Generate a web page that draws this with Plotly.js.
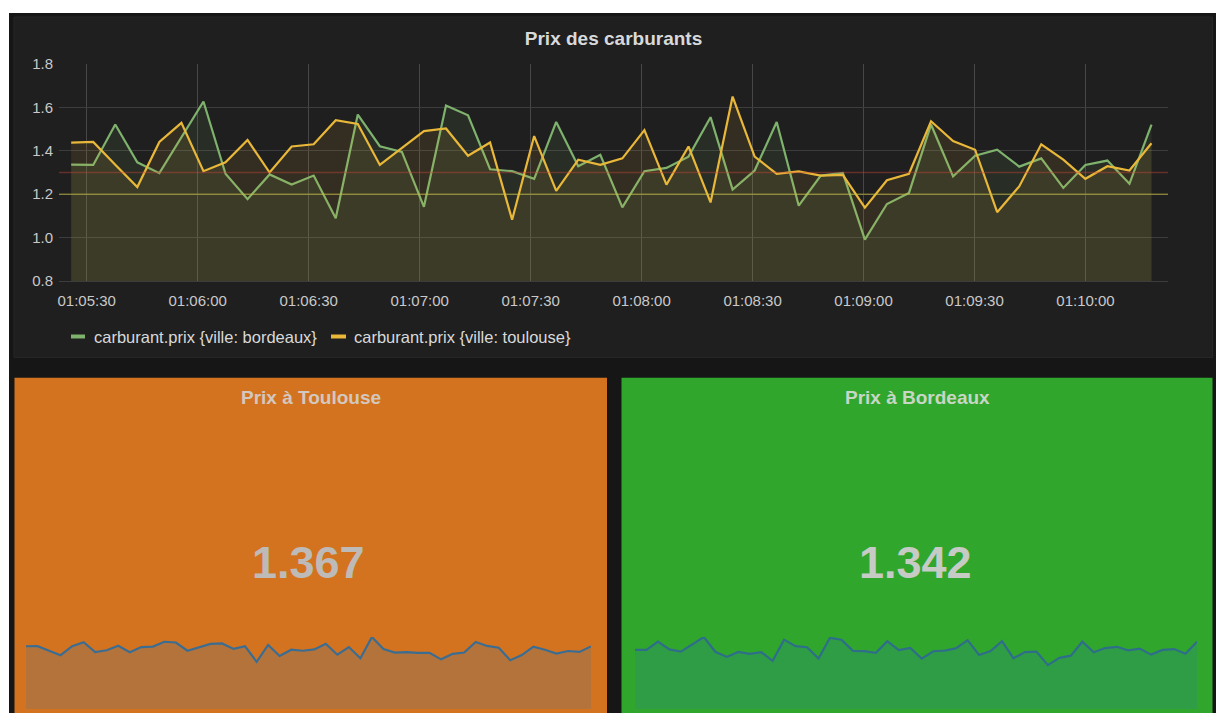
<!DOCTYPE html>
<html>
<head>
<meta charset="utf-8">
<script src="https://cdn.plot.ly/plotly-3.0.1.min.js"></script>
<style>
  html, body { margin: 0; padding: 0; background: #ffffff; }
  #chart { width: 1216px; height: 713px; }
</style>
</head>
<body>
<div id="chart"></div>
<script>
// ---- Data ----
const times = [
  "2017-06-01 01:05:25.80", "2017-06-01 01:05:31.76", "2017-06-01 01:05:37.72", "2017-06-01 01:05:43.68",
  "2017-06-01 01:05:49.64", "2017-06-01 01:05:55.60", "2017-06-01 01:06:01.56", "2017-06-01 01:06:07.52",
  "2017-06-01 01:06:13.48", "2017-06-01 01:06:19.44", "2017-06-01 01:06:25.40", "2017-06-01 01:06:31.36",
  "2017-06-01 01:06:37.32", "2017-06-01 01:06:43.28", "2017-06-01 01:06:49.24", "2017-06-01 01:06:55.20",
  "2017-06-01 01:07:01.16", "2017-06-01 01:07:07.12", "2017-06-01 01:07:13.08", "2017-06-01 01:07:19.04",
  "2017-06-01 01:07:25.00", "2017-06-01 01:07:30.96", "2017-06-01 01:07:36.92", "2017-06-01 01:07:42.88",
  "2017-06-01 01:07:48.84", "2017-06-01 01:07:54.80", "2017-06-01 01:08:00.76", "2017-06-01 01:08:06.72",
  "2017-06-01 01:08:12.68", "2017-06-01 01:08:18.64", "2017-06-01 01:08:24.60", "2017-06-01 01:08:30.56",
  "2017-06-01 01:08:36.52", "2017-06-01 01:08:42.48", "2017-06-01 01:08:48.44", "2017-06-01 01:08:54.40",
  "2017-06-01 01:09:00.36", "2017-06-01 01:09:06.32", "2017-06-01 01:09:12.28", "2017-06-01 01:09:18.24",
  "2017-06-01 01:09:24.20", "2017-06-01 01:09:30.16", "2017-06-01 01:09:36.12", "2017-06-01 01:09:42.08",
  "2017-06-01 01:09:48.04", "2017-06-01 01:09:54.00", "2017-06-01 01:09:59.96", "2017-06-01 01:10:05.92",
  "2017-06-01 01:10:11.88", "2017-06-01 01:10:17.84"
];

const bordeaux = [
  1.336, 1.335, 1.521, 1.347, 1.297, 1.462, 1.627, 1.294, 1.177, 1.291,
  1.245, 1.286, 1.089, 1.567, 1.421, 1.395, 1.142, 1.609, 1.564, 1.315,
  1.306, 1.271, 1.533, 1.329, 1.382, 1.139, 1.306, 1.321, 1.373, 1.555,
  1.221, 1.309, 1.533, 1.147, 1.286, 1.298, 0.991, 1.155, 1.206, 1.521,
  1.282, 1.377, 1.405, 1.327, 1.365, 1.229, 1.335, 1.355, 1.248, 1.521
];

const toulouse = [
  1.438, 1.441, 1.336, 1.233, 1.441, 1.529, 1.306, 1.347, 1.450, 1.300,
  1.420, 1.430, 1.541, 1.524, 1.335, 1.413, 1.491, 1.503, 1.377, 1.438,
  1.082, 1.468, 1.215, 1.359, 1.335, 1.365, 1.495, 1.244, 1.420, 1.162,
  1.650, 1.373, 1.294, 1.305, 1.286, 1.289, 1.138, 1.264, 1.294, 1.536,
  1.445, 1.405, 1.117, 1.236, 1.430, 1.359, 1.271, 1.329, 1.309, 1.435
];

const seriesNames = ["carburant.prix {ville: bordeaux}", "carburant.prix {ville: toulouse}"];
const thresholds = [1.3, 1.2];
const yTicks = [0.8, 1.0, 1.2, 1.4, 1.6, 1.8];
const mainTitle = "Prix des carburants";
const statTitles = ["Prix à Toulouse", "Prix à Bordeaux"];
const statValues = ["1.367", "1.342"];

// ---- Geometry helpers (pixel -> paper fraction) ----
const W = 1216, H = 713;
const px = v => v / W;
const py = v => 1 - v / H;
const FONT = "Liberation Sans, Arial, Helvetica, sans-serif";

const GREEN = "#7EB26D", YELLOW = "#EAB839";

const traces = [
  { x: times, y: bordeaux, name: seriesNames[0], type: "scatter", mode: "lines",
    xaxis: "x", yaxis: "y", line: { color: GREEN, width: 2.2 },
    fill: "tozeroy", fillcolor: "rgba(126,178,109,0.10)", showlegend: false, hoverinfo: "skip" },
  { x: times, y: toulouse, name: seriesNames[1], type: "scatter", mode: "lines",
    xaxis: "x", yaxis: "y", line: { color: YELLOW, width: 2.2 },
    fill: "tozeroy", fillcolor: "rgba(234,184,57,0.10)", showlegend: false, hoverinfo: "skip" },
  { x: times, y: toulouse, type: "scatter", mode: "lines", xaxis: "x2", yaxis: "y2",
    line: { color: "#3b6d93", width: 2.2 }, fill: "tozeroy", fillcolor: "rgba(31,118,189,0.18)",
    showlegend: false, hoverinfo: "skip" },
  { x: times, y: bordeaux, type: "scatter", mode: "lines", xaxis: "x3", yaxis: "y3",
    line: { color: "#2f6e8a", width: 2.2 }, fill: "tozeroy", fillcolor: "rgba(31,118,189,0.18)",
    showlegend: false, hoverinfo: "skip" }
];

const shapes = [
  // dashboard background
  { type: "rect", xref: "paper", yref: "paper", x0: px(9), x1: 1, y0: 0, y1: py(13),
    fillcolor: "#161616", line: { width: 0 }, layer: "below" },
  // graph panel
  { type: "rect", xref: "paper", yref: "paper", x0: px(14), x1: px(1212.5), y0: py(357.5), y1: py(17),
    fillcolor: "#1f1f1f", line: { color: "#262626", width: 1 }, layer: "below" },
  // Toulouse stat panel
  { type: "rect", xref: "paper", yref: "paper", x0: px(14.5), x1: px(607), y0: -0.01, y1: py(377.7),
    fillcolor: "#d4731f", line: { width: 0 }, layer: "below" },
  // Bordeaux stat panel
  { type: "rect", xref: "paper", yref: "paper", x0: px(621.5), x1: px(1212.5), y0: -0.01, y1: py(377.7),
    fillcolor: "#31a62c", line: { width: 0 }, layer: "below" },
  // thresholds
  { type: "line", xref: "paper", yref: "y", x0: px(59), x1: px(1168), y0: thresholds[0], y1: thresholds[0],
    line: { color: "rgba(200,70,55,0.42)", width: 1.5 }, layer: "above" },
  { type: "line", xref: "paper", yref: "y", x0: px(59), x1: px(1168), y0: thresholds[1], y1: thresholds[1],
    line: { color: "rgba(205,195,60,0.5)", width: 1.5 }, layer: "above" },
  // legend swatches
  { type: "line", xref: "paper", yref: "paper", x0: px(71), x1: px(85), y0: py(336.5), y1: py(336.5),
    line: { color: GREEN, width: 4 }, layer: "above" },
  { type: "line", xref: "paper", yref: "paper", x0: px(331), x1: px(346), y0: py(336.5), y1: py(336.5),
    line: { color: YELLOW, width: 4 }, layer: "above" }
];

const annotations = [
  // legend texts
  { xref: "paper", yref: "paper", x: px(92), y: py(336.5), xanchor: "left", yanchor: "middle",
    text: seriesNames[0], showarrow: false, font: { family: FONT, size: 16.5, color: "#d8d9da" } },
  { xref: "paper", yref: "paper", x: px(351.5), y: py(336.5), xanchor: "left", yanchor: "middle",
    text: seriesNames[1], showarrow: false, font: { family: FONT, size: 16.5, color: "#d8d9da" } },
  // stat panel titles
  { xref: "paper", yref: "paper", x: px(310.8), y: py(397), xanchor: "center", yanchor: "middle",
    text: "<b>" + statTitles[0] + "</b>", showarrow: false, font: { family: FONT, size: 19, color: "#d2c8bf" } },
  { xref: "paper", yref: "paper", x: px(917), y: py(397), xanchor: "center", yanchor: "middle",
    text: "<b>" + statTitles[1] + "</b>", showarrow: false, font: { family: FONT, size: 19, color: "#c8d6c6" } },
  // stat values
  { xref: "paper", yref: "paper", x: px(308.5), y: py(562), xanchor: "center", yanchor: "middle",
    text: "<b>" + statValues[0] + "</b>", showarrow: false, font: { family: FONT, size: 45, color: "#bdbab7" } },
  { xref: "paper", yref: "paper", x: px(915.5), y: py(562), xanchor: "center", yanchor: "middle",
    text: "<b>" + statValues[1] + "</b>", showarrow: false, font: { family: FONT, size: 45, color: "#c6cbc6" } }
];

const tickFont = { family: FONT, size: 15, color: "#c9c9c9" };

const layout = {
  width: W, height: H,
  margin: { l: 0, r: 0, t: 0, b: 0, pad: 0 },
  paper_bgcolor: "#ffffff",
  plot_bgcolor: "rgba(0,0,0,0)",
  showlegend: false,
  title: { text: "<b>" + mainTitle + "</b>", x: px(613.5), xanchor: "center", xref: "paper", y: py(38), yanchor: "middle",
           font: { family: FONT, size: 19, color: "#d8d9da" } },
  xaxis: {
    type: "date", domain: [px(59), px(1168)], anchor: "y",
    range: ["2017-06-01 01:05:22.51", "2017-06-01 01:10:22.30"],
    tickformat: "%H:%M:%S", tick0: "2017-06-01 01:05:30", dtick: 30000,
    showgrid: true, gridcolor: "#474747", gridwidth: 1, zeroline: false,
    showline: true, linecolor: "#3d3d3d", linewidth: 1,
    ticks: "", ticklabelstandoff: 6, tickfont: tickFont, fixedrange: true
  },
  yaxis: {
    domain: [py(281), py(64)], anchor: "x", range: [0.8, 1.8],
    tickvals: yTicks, tickformat: ".1f",
    showgrid: true, gridcolor: "#3d3d3d", gridwidth: 1, zeroline: false,
    ticks: "", ticklabelstandoff: 5, tickfont: tickFont, fixedrange: true
  },
  xaxis2: { domain: [px(26), px(591)], anchor: "y2", visible: false, fixedrange: true },
  yaxis2: { domain: [py(709), py(637)], anchor: "x2", visible: false, range: [0, Math.max(...toulouse)], fixedrange: true },
  xaxis3: { domain: [px(635), px(1197)], anchor: "y3", visible: false, fixedrange: true },
  yaxis3: { domain: [py(709), py(637)], anchor: "x3", visible: false, range: [0, Math.max(...bordeaux)], fixedrange: true },
  shapes: shapes,
  annotations: annotations
};

Plotly.newPlot("chart", traces, layout, { displayModeBar: false, staticPlot: true });
</script>
</body>
</html>
